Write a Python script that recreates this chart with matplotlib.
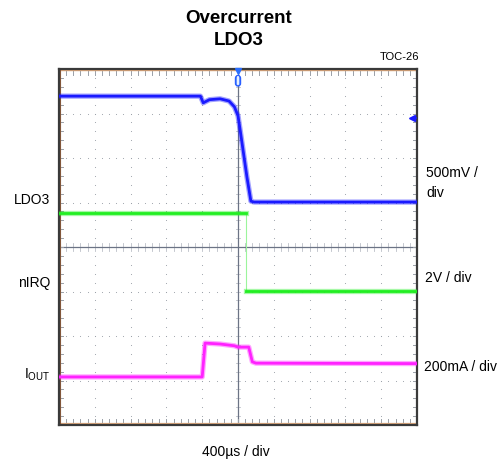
import numpy as np
import matplotlib
matplotlib.use("Agg")
import matplotlib.pyplot as plt
from matplotlib.patches import FancyBboxPatch

# ---- data (x in time divisions, 400us/div; y in screen divisions) ----
ldo3_x = [0, 3.95, 4.03, 4.2, 4.5, 4.75, 4.9, 5.0, 5.06, 5.25, 5.36, 5.45, 10]
ldo3_y = [7.39, 7.39, 7.24, 7.31, 7.33, 7.28, 7.15, 6.95, 6.63, 5.57, 5.03, 5.01, 5.01]

nirq_hi_x = [0, 5.22]
nirq_hi_y = [4.76, 4.76]
nirq_lo_x = [5.22, 10]
nirq_lo_y = [3.01, 3.01]

iout_x = [0, 4.0, 4.08, 4.5, 4.9, 5.0, 5.3, 5.4, 5.5, 10]
iout_y = [1.08, 1.08, 1.84, 1.82, 1.78, 1.75, 1.75, 1.42, 1.39, 1.38]

left_labels = ["LDO3", "nIRQ", "$\\mathregular{I_{OUT}}$"]
right_labels = ["500mV /\ndiv", "2V / div", "200mA / div"]
x_label = "400µs / div"
title = "Overcurrent\nLDO3"
tag = "TOC-26"

W, H = 503, 468
fig = plt.figure(figsize=(W / 100, H / 100), dpi=100)
plt.rcParams['font.family'] = ['Liberation Sans', 'DejaVu Sans']

L, R, T, B = 59, 417, 69, 425
ax = fig.add_axes([L / W, 1 - B / H, (R - L) / W, (B - T) / H])
ax.set_xlim(0, 10)
ax.set_ylim(0, 8)
ax.set_xticks([])
ax.set_yticks([])
for s in ax.spines.values():
    s.set_color('#3a3a3a')
    s.set_linewidth(1.6)

# dotted grid (dots at minor positions)
grid_c = '#9aa0a8'
xs_minor = np.arange(0, 10.001, 0.2)
ys_minor = np.arange(0, 8.001, 0.2)
for gx in range(1, 10):
    if gx == 5:
        continue
    ax.scatter(np.full(ys_minor.size, gx), ys_minor, s=0.6, color=grid_c, lw=0, zorder=1)
for gy in range(1, 8):
    if gy == 4:
        continue
    ax.scatter(xs_minor, np.full(xs_minor.size, gy), s=0.6, color=grid_c, lw=0, zorder=1)

# center axes with ticks
axis_c = '#6b7385'
ax.axvline(5, color=axis_c, lw=0.9, zorder=1)
ax.axhline(4, color=axis_c, lw=0.9, zorder=1)
tx = 0.06
ty = 0.09
for x in xs_minor:
    ax.plot([x, x], [4 - ty, 4 + ty], color=axis_c, lw=0.6, alpha=0.45, zorder=1)
    ax.plot([x, x], [8 - 0.13, 8 - 0.05], color=grid_c, lw=0.7, zorder=1)
    ax.plot([x, x], [0.05, 0.13], color=grid_c, lw=0.7, zorder=1)
for y in ys_minor:
    ax.plot([5 - tx, 5 + tx], [y, y], color=axis_c, lw=0.6, alpha=0.45, zorder=1)
    ax.plot([0.03, 0.1], [y, y], color=grid_c, lw=0.7, zorder=1)
    ax.plot([9.9, 9.97], [y, y], color=grid_c, lw=0.7, zorder=1)

# tan inner border lines
tan = '#d9a47a'
ax.axhline(7.97, color=tan, lw=1.0, zorder=2)
ax.axhline(0.03, color=tan, lw=1.6, zorder=2)
ax.axvline(0.02, color='#8a5a3a', lw=0.8, zorder=2)

# traces (soft halo + core to mimic the noisy scope band)
blue = '#1a1aff'
green = '#22ee22'
mag = '#ff22ff'
def trace(xs, ys, c, z):
    ax.plot(xs, ys, color=c, lw=3.8, alpha=0.4, zorder=z, solid_joinstyle='round')
    ax.plot(xs, ys, color=c, lw=2.0, zorder=z + 0.5, solid_joinstyle='round')

trace(ldo3_x, ldo3_y, blue, 5)
trace(nirq_hi_x, nirq_hi_y, green, 4)
trace(nirq_lo_x, nirq_lo_y, green, 4)
ax.plot([nirq_hi_x[-1], nirq_lo_x[0]], [nirq_hi_y[-1], nirq_lo_y[0]], color='#9cf59c', lw=0.8, zorder=3)
trace(iout_x, iout_y, mag, 4)

# trigger marker
ax.plot([5], [7.95], marker='v', color='#2a6fff', ms=5, zorder=8, clip_on=False)
box = FancyBboxPatch((4.93, 7.62), 0.14, 0.23, boxstyle="round,pad=0,rounding_size=0.06",
                     fc='#6fa0ff', ec='#2a5fff', lw=1.0, zorder=8)
ax.add_patch(box)
ax.plot([5, 5], [7.66, 7.82], color='white', lw=1.2, zorder=9)
# right-side reference arrow
ax.plot([9.86], [6.9], marker='<', color=blue, ms=5, zorder=8)
ax.plot([9.86, 9.97], [6.9, 6.9], color=blue, lw=1.2, zorder=8)

# texts
fig.text(239 / W, 1 - 29.5 / H, title, ha='center', va='center', fontsize=13.5,
         fontweight='bold', linespacing=1.35)
fig.text(419 / W, 1 - 57 / H, tag, ha='right', va='center', fontsize=8)
fs = 10
fig.text(50 / W, 1 - 200 / H, left_labels[0], ha='right', va='center', fontsize=fs)
fig.text(50 / W, 1 - 283 / H, left_labels[1], ha='right', va='center', fontsize=fs)
fig.text(50 / W, 1 - 375 / H, left_labels[2], ha='right', va='center', fontsize=fs)
fig.text(426 / W, 1 - 183 / H, right_labels[0], ha='left', va='center', fontsize=fs, linespacing=1.5)
fig.text(425 / W, 1 - 278 / H, right_labels[1], ha='left', va='center', fontsize=fs)
fig.text(424 / W, 1 - 367 / H, right_labels[2], ha='left', va='center', fontsize=fs)
fig.text(236 / W, 1 - 452 / H, x_label, ha='center', va='center', fontsize=fs)

fig.savefig("out.png", dpi=100)
